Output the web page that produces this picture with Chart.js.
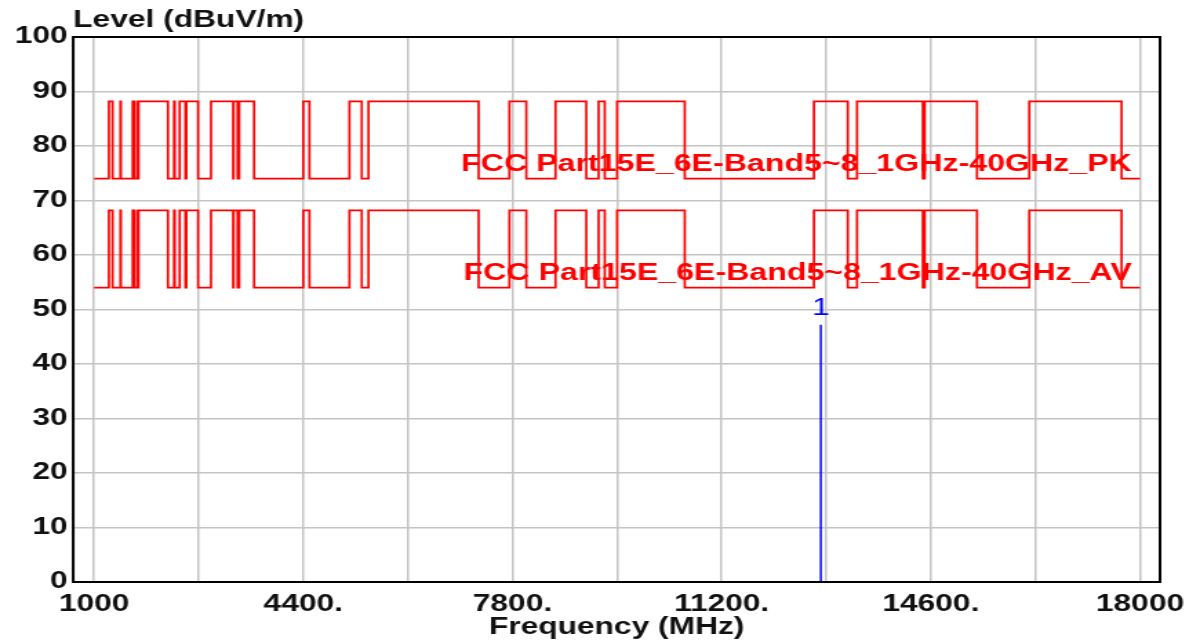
<!DOCTYPE html>
<html>
<head>
<meta charset="utf-8">
<script src="https://cdn.jsdelivr.net/npm/chart.js@4.4.0/dist/chart.umd.min.js"></script>
<style>
  html, body { margin: 0; padding: 0; background: #fff; overflow: hidden; }
  /* analyzer screens are drawn narrow and stretched wide */
  #wrap { width: 870px; height: 643px; transform: scaleX(1.3793); transform-origin: 0 0; }
</style>
</head>
<body>
<div id="wrap"><canvas id="chart" width="870" height="643"></canvas></div>
<script>
// FCC 15.205 restricted bands inside the sweep (MHz)
const restrictedBands = [
  [1000, 1240], [1300, 1427], [1435, 1626.5], [1645.5, 1646.5], [1660, 1710],
  [1718.8, 1722.2], [2200, 2300], [2310, 2390], [2483.5, 2500], [2690, 2900],
  [3260, 3267], [3332, 3339], [3345.8, 3358], [3600, 4400], [4500, 5150],
  [5350, 5460], [7250, 7750], [8025, 8500], [9000, 9200], [9300, 9500],
  [10600, 12700], [13250, 13400], [14470, 14500], [15350, 16200], [17700, 18000]
];
const sweepStart = 1000;
const sweepStop = 18000;

// limit levels, dBuV/m
const pkRestricted = 74;
const pkOther = 88.2;
const avRestricted = 54;
const avOther = 68.2;

// measured peaks
const markerFreq = [12812];
const markerLevel = [47.2];
const markerNames = ['1'];

const xTicks = [1000, 2700, 4400, 6100, 7800, 9500, 11200, 12900, 14600, 16300, 18000];
const xTickLabels = ['1000', '', '4400.', '', '7800.', '', '11200.', '', '14600.', '', '18000'];
const yTicks = [0, 10, 20, 30, 40, 50, 60, 70, 80, 90, 100];

const FONT = '"Liberation Sans", Arial, sans-serif';

// stepped limit: inBand inside restricted bands, outBand elsewhere
function limitLine(inBand, outBand) {
  const pts = [];
  let f = sweepStart;
  restrictedBands.forEach(([lo, hi]) => {
    if (lo > f) pts.push({ x: f, y: outBand });
    pts.push({ x: lo, y: inBand });
    f = hi;
  });
  if (f < sweepStop) {
    pts.push({ x: f, y: outBand });
    pts.push({ x: sweepStop, y: outBand });
  } else {
    pts.push({ x: sweepStop, y: inBand });
  }
  return pts;
}

const limitLabels = [
  { text: 'FCC Part15E_6E-Band5~8_1GHz-40GHz_PK', level: pkRestricted },
  { text: 'FCC Part15E_6E-Band5~8_1GHz-40GHz_AV', level: avRestricted }
];

const frameAndText = {
  id: 'frameAndText',
  afterDraw(chart) {
    const { ctx, chartArea: a, scales: { x, y } } = chart;
    ctx.save();
    ctx.strokeStyle = '#000';
    ctx.lineWidth = 2;
    ctx.strokeRect(a.left, a.top, a.right - a.left, a.bottom - a.top);

    ctx.fillStyle = '#111';
    ctx.font = 'bold 23px ' + FONT;
    ctx.textAlign = 'left';
    ctx.textBaseline = 'alphabetic';
    ctx.fillText('Level (dBuV/m)', a.left, 27);

    ctx.fillStyle = '#ff0000';
    ctx.font = 'bold 23.3px ' + FONT;
    ctx.textAlign = 'right';
    limitLabels.forEach(l => {
      ctx.fillText(l.text, x.getPixelForValue(sweepStop) - 6, y.getPixelForValue(l.level) - 8);
    });

    ctx.fillStyle = '#0000ff';
    ctx.font = '23px ' + FONT;
    ctx.textAlign = 'center';
    markerNames.forEach((n, i) => {
      ctx.fillText(n, x.getPixelForValue(markerFreq[i]), y.getPixelForValue(markerLevel[i]) - 10);
    });
    ctx.restore();
  }
};

const gridStyle = { color: '#c4c4c4', lineWidth: 1.5, drawTicks: false };

new Chart(document.getElementById('chart'), {
  type: 'line',
  data: {
    datasets: [
      { data: limitLine(pkRestricted, pkOther), borderColor: '#ff0000', borderWidth: 1.7, stepped: 'before', pointRadius: 0 },
      { data: limitLine(avRestricted, avOther), borderColor: '#ff0000', borderWidth: 1.7, stepped: 'before', pointRadius: 0 },
      ...markerFreq.map((f, i) => ({
        data: [{ x: f, y: 0 }, { x: f, y: markerLevel[i] }],
        borderColor: '#0000ff', borderWidth: 1.5, pointRadius: 0
      }))
    ]
  },
  options: {
    responsive: false,
    animation: false,
    events: [],
    layout: { padding: { left: 6.7, top: 37, right: 28, bottom: 0 } },
    plugins: { legend: { display: false }, tooltip: { enabled: false } },
    scales: {
      x: {
        type: 'linear',
        min: 660,
        max: 18325,
        afterBuildTicks: s => { s.ticks = xTicks.map(v => ({ value: v })); },
        ticks: {
          autoSkip: false,
          maxRotation: 0,
          padding: 11,
          color: '#111',
          font: { family: FONT, size: 23, weight: 'bold', lineHeight: 1 },
          callback: (v, i) => xTickLabels[i]
        },
        grid: gridStyle,
        border: { display: false },
        title: {
          display: true,
          text: 'Frequency (MHz)',
          color: '#111',
          font: { family: FONT, size: 23, weight: 'bold', lineHeight: 1 },
          padding: { top: -11, bottom: 4 }
        }
      },
      y: {
        min: 0,
        max: 100,
        afterBuildTicks: s => { s.ticks = yTicks.map(v => ({ value: v })); },
        ticks: {
          padding: 4,
          color: '#111',
          font: { family: FONT, size: 23, weight: 'bold' },
          callback: v => String(v)
        },
        grid: gridStyle,
        border: { display: false }
      }
    }
  },
  plugins: [frameAndText]
});
</script>
</body>
</html>
